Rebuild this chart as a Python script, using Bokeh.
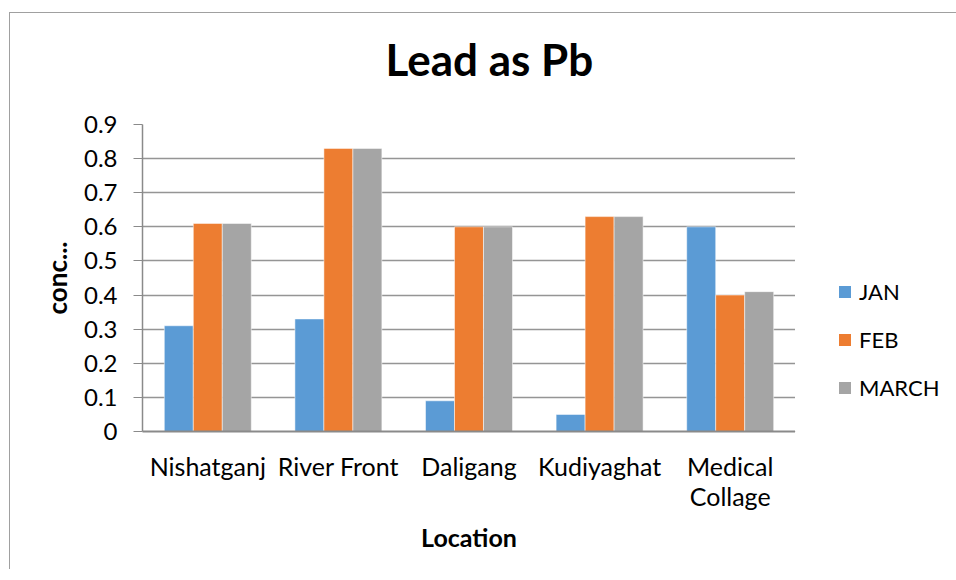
from bokeh.plotting import figure
from bokeh.layouts import row
from bokeh.models import FactorRange, Range1d, FixedTicker, Legend, LegendItem, ColumnDataSource, Title
from bokeh.transform import dodge
from bokeh.embed import file_html
from bokeh.resources import INLINE

locations = ["Nishatganj", "River Front", "Daligang", "Kudiyaghat", "Medical\nCollage"]
jan = [0.31, 0.33, 0.09, 0.05, 0.60]
feb = [0.61, 0.83, 0.60, 0.63, 0.40]
march = [0.61, 0.83, 0.60, 0.63, 0.41]
series_names = ["JAN", "FEB", "MARCH"]
y_ticks = [0, 0.1, 0.2, 0.3, 0.4, 0.5, 0.6, 0.7, 0.8, 0.9]
chart_title = "Lead as Pb"

FONT = "Lato"
colors = ["#5B9BD5", "#ED7D31", "#A5A5A5"]

src = ColumnDataSource(dict(loc=locations, JAN=jan, FEB=feb, MARCH=march))

p = figure(width=785, height=556, x_range=FactorRange(*locations, range_padding=0),
           y_range=Range1d(0, 0.9), output_backend="svg", toolbar_location=None, title=None,
           min_border_left=132, min_border_right=0, min_border_top=111, min_border_bottom=138)
p.outline_line_color = None

w = 0.222
for i, (name, col) in enumerate(zip(series_names, colors)):
    p.vbar(x=dodge("loc", (i - 1) * w, range=p.x_range), top=name, width=w, source=src,
           fill_color=col, line_color="white", line_width=1, line_alpha=0.5)

# title; a blank second line keeps it higher above the plot frame
p.add_layout(Title(text=chart_title + "\n ", text_font=FONT, text_font_size="44px",
                   text_font_style="bold", text_line_height=0.7, text_color="black",
                   align="left", offset=243, standoff=7), "above")

p.yaxis.ticker = FixedTicker(ticks=y_ticks)
p.yaxis.major_label_overrides = {0: "0"}
p.yaxis.axis_label = "conc..."
for ax in (p.xaxis[0], p.yaxis[0]):
    ax.axis_label_text_font = FONT
    ax.axis_label_text_font_style = "bold"
    ax.axis_label_text_color = "black"
    ax.major_label_text_font = FONT
    ax.major_label_text_color = "black"
    ax.axis_line_color = "#8a8a8a"
    ax.major_tick_line_color = "#8a8a8a"
    ax.minor_tick_line_color = None
    ax.major_tick_in = 0
p.yaxis.axis_label_text_font_size = "26px"
p.xaxis.axis_label_text_font_size = "25px"
p.yaxis.major_label_text_font_size = "24px"
p.yaxis.major_tick_out = 9
p.yaxis.major_label_standoff = 16
p.yaxis.axis_label_standoff = 8
p.yaxis.axis_line_width = 1.5
p.xaxis.axis_label = "Location"
p.xaxis.major_label_text_font_size = "25px"
p.xaxis.major_label_text_line_height = 1.03
p.xaxis.major_tick_out = 0
p.xaxis.major_label_standoff = 19
p.xaxis.axis_label_standoff = 8
p.xaxis.axis_line_width = 2

p.xgrid.grid_line_color = None
p.ygrid.grid_line_color = "#959595"
p.ygrid.grid_line_width = 1.5

# legend panel
lg = figure(width=161, height=556, output_backend="svg", toolbar_location=None,
            x_axis_type=None, y_axis_type=None, min_border=0,
            x_range=Range1d(10, 11), y_range=Range1d(10, 11))
lg.outline_line_color = None
lg.xgrid.visible = False
lg.ygrid.visible = False
dummy = ColumnDataSource(dict(x=[0], top=[0]))
items = []
for name, col in zip(series_names, colors):
    r = lg.vbar(x="x", top="top", width=0.5, source=dummy, fill_color=col, line_color=None)
    items.append(LegendItem(label=name, renderers=[r]))
legend = Legend(items=items, location=(42, 29), padding=0, margin=0, border_line_alpha=0,
                background_fill_alpha=0, glyph_width=15, glyph_height=15, label_standoff=7,
                label_height=30, spacing=18, label_text_font=FONT, label_text_font_size="22px",
                label_text_color="black")
lg.add_layout(legend, "center")

layout = row(p, lg, spacing=0)
layout.margin = (12, 0, 0, 9)
layout.styles = {"border-top": "1px solid #a0a0a0", "border-left": "1px solid #a0a0a0"}

open("out.html", "w").write(file_html(layout, INLINE))
